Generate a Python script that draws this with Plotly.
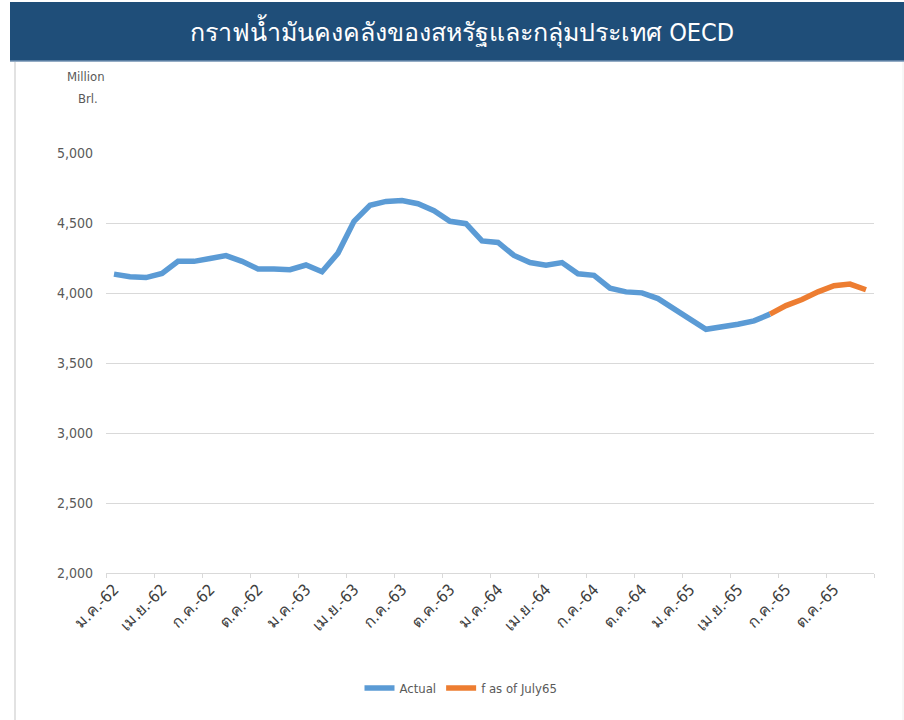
import plotly.graph_objects as go

# ---------------- data ----------------
months_th = ["ม.ค.", "ก.พ.", "มี.ค.", "เม.ย.", "พ.ค.", "มิ.ย.",
             "ก.ค.", "ส.ค.", "ก.ย.", "ต.ค.", "พ.ย.", "ธ.ค."]
years_th = ["62", "63", "64", "65"]
categories = [f"{m}-{y}" for y in years_th for m in months_th]   # 48 months

actual = [4135, 4116, 4110, 4140, 4226, 4226, 4246, 4267, 4226, 4172,
          4172, 4166, 4200, 4152, 4285, 4512, 4627, 4654, 4660, 4638,
          4588, 4512, 4495, 4372, 4361, 4268, 4218, 4198, 4217, 4137,
          4126, 4034, 4008, 4001, 3960, 3882, 3813, 3741, 3755, 3777,
          3801, 3849]
forecast_start = 41
forecast = [3849, 3910, 3953, 4008, 4052, 4064, 4023]

y_ticks = [2000, 2500, 3000, 3500, 4000, 4500, 5000]
title_text = "กราฟน้ำมันคงคลังของสหรัฐและกลุ่มประเทศ OECD"
unit_lines = ["Million", "Brl."]
series_names = ["Actual", "f as of July65"]

# ---------------- layout geometry (pixels) ----------------
W, H = 904, 720
L, R = 106, 874          # plot area left / right in px
T, B = 153, 573          # plot area top / bottom in px


def px(x):
    return (x - L) / (R - L)


def py(y):
    return (B - y) / (B - T)


FONT = "Liberation Sans Narrow, DejaVu Sans Condensed, Roboto, sans-serif"
BLUE = "#5B9BD5"
ORANGE = "#ED7D31"

x_actual = list(range(len(actual)))
x_fore = list(range(forecast_start, forecast_start + len(forecast)))

fig = go.Figure()
fig.add_trace(go.Scatter(x=x_actual, y=actual, mode="lines", name=series_names[0],
                         line=dict(color=BLUE, width=5.5)))
fig.add_trace(go.Scatter(x=x_fore, y=forecast, mode="lines", name=series_names[1],
                         line=dict(color=ORANGE, width=5.5)))

label_idx = list(range(0, len(categories), 3))

fig.update_layout(
    width=W, height=H,
    margin=dict(l=L, r=W - R, t=T, b=H - B, pad=0),
    paper_bgcolor="white", plot_bgcolor="white",
    font=dict(family=FONT, color="#595959", size=13),
    showlegend=True,
    legend=dict(orientation="h", x=px(461), xanchor="center", y=py(688), yanchor="middle",
                font=dict(size=13, color="#595959"), itemwidth=30,
                traceorder="normal"),
    xaxis=dict(
        range=[-0.5, len(categories) - 0.5],
        tickmode="array", tickvals=label_idx,
        ticktext=[categories[i] for i in label_idx],
        tickangle=-45, ticks="",
        tickfont=dict(size=16, color="#404040"),
        showgrid=False, zeroline=False,
        showline=True, linecolor="#d9d9d9", linewidth=1,
        minor=dict(tickmode="array",
                   tickvals=[i - 0.5 for i in range(0, len(categories) + 1, 3)],
                   ticks="outside", ticklen=4, tickcolor="#d9d9d9", tickwidth=1,
                   showgrid=False),
        fixedrange=True,
    ),
    yaxis=dict(
        range=[2000, 5000],
        tickmode="array", tickvals=y_ticks,
        ticktext=[f"{v:,}" for v in y_ticks],
        tickfont=dict(size=14, color="#595959"),
        showgrid=True, gridcolor="#d9d9d9", gridwidth=1,
        zeroline=False, showline=False, ticks="",
        ticklabelstandoff=12,
        fixedrange=True,
    ),
)

# title bar
fig.add_shape(type="rect", xref="paper", yref="paper",
              x0=px(10), x1=px(904), y0=py(61), y1=py(2),
              fillcolor="#1F4E79", line=dict(width=0), layer="above")
fig.add_shape(type="line", xref="paper", yref="paper",
              x0=px(10), x1=px(904), y0=py(61), y1=py(61),
              line=dict(color="#6F8FB0", width=1.5))
fig.add_annotation(xref="paper", yref="paper", x=px(462), y=py(31),
                   text=title_text, showarrow=False,
                   font=dict(family=FONT, size=25, color="white"),
                   xanchor="center", yanchor="middle")

# chart border
fig.add_shape(type="line", xref="paper", yref="paper",
              x0=px(15), x1=px(15), y0=py(62), y1=py(720),
              line=dict(color="#d9d9d9", width=1.5))
fig.add_shape(type="line", xref="paper", yref="paper",
              x0=px(903), x1=px(903), y0=py(62), y1=py(720),
              line=dict(color="#eeeeee", width=1))

# unit label
for txt, yy, xx in zip(unit_lines, [76, 98], [86, 88]):
    fig.add_annotation(xref="paper", yref="paper", x=px(xx), y=py(yy),
                       text=txt, showarrow=False,
                       font=dict(family=FONT, size=13, color="#595959"),
                       xanchor="center", yanchor="middle")

fig.write_html("out.html", config={"displayModeBar": False},
               post_script="document.body.style.margin='0';")
